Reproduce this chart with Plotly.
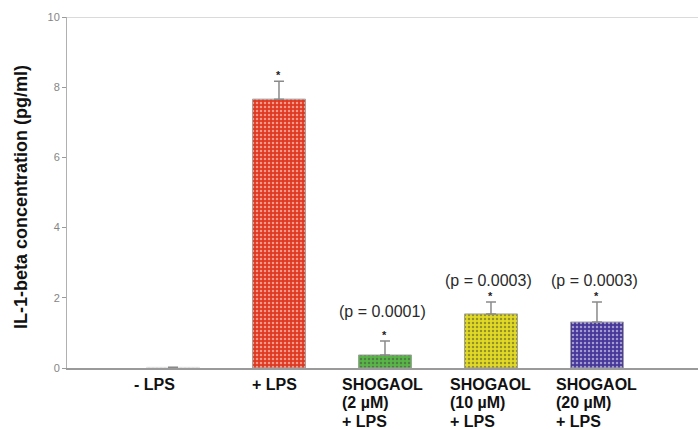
import plotly.graph_objects as go

# IL-1-beta levels per treatment group
groups = ["- LPS", "+ LPS", "SHOGAOL (2 µM) + LPS", "SHOGAOL (10 µM) + LPS", "SHOGAOL (20 µM) + LPS"]
label_lines = [["- LPS"], ["+ LPS"],
               ["SHOGAOL", "(2 µM)", "+ LPS"],
               ["SHOGAOL", "(10 µM)", "+ LPS"],
               ["SHOGAOL", "(20 µM)", "+ LPS"]]
il1b = [0.02, 7.66, 0.37, 1.54, 1.31]
err_up = [0.0, 0.51, 0.40, 0.34, 0.57]
significant = [False, True, True, True, True]
p_labels = ["", "", "(p = 0.0001)", "(p = 0.0003)", "(p = 0.0003)"]
y_ticks = [0, 2, 4, 6, 8, 10]

bg_colors = ["#ffffff", "#e0391f", "#58b646", "#e2da22", "#47379b"]
dot_colors = ["#ffffff", "#ef8a34", "#72c860", "#eeea60", "#5f8cbc"]
edge_colors = ["#e2e2e2", "#a0a0a0", "#a0a0a0", "#a0a0a0", "#a0a0a0"]

fig = go.Figure()
fig.add_trace(go.Bar(
    x=groups, y=il1b,
    marker=dict(
        color=bg_colors,
        line=dict(color=edge_colors, width=1),
        pattern=dict(shape=".", fgcolor=dot_colors, size=4, solidity=0.3,
                     fillmode="overlay"),
    ),
    error_y=dict(type="data", array=err_up, symmetric=False,
                 arrayminus=[0] * len(err_up), visible=True,
                 color="#8a8a8a", thickness=1.5, width=5),
    showlegend=False,
))

annotations = []
# category labels below the axis
label_style = [
    dict(xanchor="center", xshift=-19),
    dict(xanchor="center", xshift=-4),
    dict(xanchor="left", xshift=-45),
    dict(xanchor="left", xshift=-43),
    dict(xanchor="left", xshift=-43),
]
for i, lines in enumerate(label_lines):
    for j, line in enumerate(lines):
        annotations.append(dict(
            x=groups[i], xref="x", y=0, yref="paper",
            text=f"<b>{line}</b>", showarrow=False,
            yanchor="middle", yshift=-16 - 18.5 * j,
            font=dict(family="Arial, Liberation Sans, sans-serif", size=16, color="#111111"),
            **label_style[i],
        ))

# significance asterisks and p-values above the error bars
p_shift = [0, 0, 29, 22, 22]
for i in range(len(groups)):
    top = il1b[i] + err_up[i]
    if significant[i]:
        annotations.append(dict(
            x=groups[i], y=top, xref="x", yref="y", text="<b>*</b>", showarrow=False,
            yanchor="middle", yshift=6,
            font=dict(family="Arial, Liberation Sans, sans-serif", size=11, color="#222222"),
        ))
    if p_labels[i]:
        annotations.append(dict(
            x=groups[i], y=top, xref="x", yref="y", text=p_labels[i], showarrow=False,
            yanchor="middle", yshift=p_shift[i], xshift=-2,
            font=dict(family="Arial, Liberation Sans, sans-serif", size=16, color="#2a2a2a"),
        ))

W, H = 698, 429
ml, mr, mt, mb = 67, 0, 17, 61
pw, ph = W - ml - mr, H - mt - mb

# y-axis title, placed in pixels then converted to paper coordinates
annotations.append(dict(
    x=(21 - ml) / pw, xref="paper", xanchor="center",
    y=(H - mb - 197) / ph, yref="paper", yanchor="middle",
    text="<b>IL-1-beta concentration (pg/ml)</b>", textangle=-90, showarrow=False,
    font=dict(family="Arial, Liberation Sans, sans-serif", size=18, color="#111111"),
))

fig.update_layout(
    width=W, height=H,
    margin=dict(l=ml, r=mr, t=mt, b=mb),
    paper_bgcolor="white", plot_bgcolor="white",
    bargap=0.5,
    annotations=annotations,
    xaxis=dict(range=[-1, 4.953], showticklabels=False, ticks="",
               showline=True, linecolor="#9a9a9a", linewidth=2, showgrid=False,
               zeroline=False, fixedrange=True),
    yaxis=dict(range=[0, 10], tickvals=y_ticks, ticks="outside", ticklen=4,
               tickcolor="#9a9a9a", showline=True, linecolor="#b0b0b0", linewidth=1,
               showgrid=False, zeroline=False,
               tickfont=dict(family="Arial, Liberation Sans, sans-serif", size=11, color="#858585")),
    shapes=[dict(type="line", xref="paper", x0=0, x1=1, yref="y", y0=10, y1=10,
                 line=dict(color="#b5b5b5", width=1))],
)

fig.write_html("out.html")
